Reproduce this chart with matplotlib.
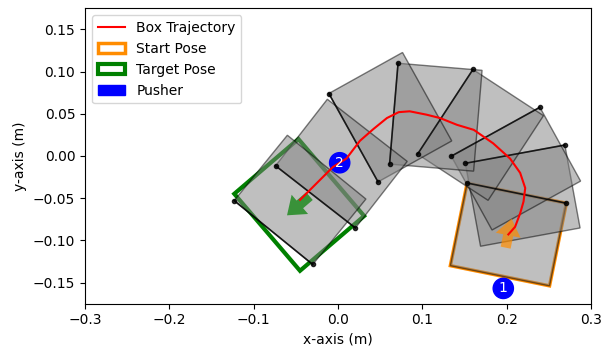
import numpy as np
import matplotlib
matplotlib.use("Agg")
import matplotlib.pyplot as plt
from matplotlib.patches import Rectangle, Circle

# box centre path (m)
traj_x = [0.202, 0.210, 0.216, 0.220, 0.222, 0.216, 0.204, 0.184, 0.161, 0.141,
          0.121, 0.105, 0.085, 0.072, 0.058, 0.042, 0.026, 0.010, -0.006, -0.025, -0.045]
traj_y = [-0.093, -0.084, -0.068, -0.054, -0.038, -0.020, -0.003, 0.015, 0.031, 0.037,
          0.045, 0.049, 0.053, 0.052, 0.045, 0.032, 0.018, -0.003, -0.013, -0.032, -0.052]

# intermediate box poses (x, y in m, theta in deg)
box_x = [0.202, 0.219, 0.211, 0.169, 0.116, 0.062, 0.004, -0.045]
box_y = [-0.093, -0.047, -0.015, 0.025, 0.046, 0.046, -0.009, -0.052]
box_theta = [-11.5, 10.4, 28.9, 56.8, 85.2, 119.1, 142.1, 140.9]

start_pose = (0.202, -0.093, -11.5)
target_pose = (-0.046, -0.058, 130.5)

pusher_x = [0.196, 0.002]
pusher_y = [-0.157, -0.008]
pusher_labels = ["1", "2"]

BOX_W, BOX_H = 0.12, 0.10
PUSHER_R = 0.012


def box_patch(x, y, theta, **kw):
    return Rectangle((x - BOX_W / 2, y - BOX_H / 2), BOX_W, BOX_H, angle=theta,
                     rotation_point="center", **kw)


def pose_arrow(ax, x, y, theta, color):
    t = np.radians(theta)
    u = np.array([-np.sin(t), np.cos(t)])
    p0 = np.array([x, y]) - 0.016 * u
    d = 0.035 * u
    ax.arrow(p0[0], p0[1], d[0], d[1], width=0.012, head_width=0.03, head_length=0.02,
             length_includes_head=True, color=color, alpha=0.7, lw=0, zorder=6)


fig = plt.figure(figsize=(6.09, 3.48), dpi=100)
ax = fig.add_axes([85 / 609, 44 / 348, 506 / 609, 296 / 348])

start_box = ax.add_patch(box_patch(*start_pose, facecolor="none", edgecolor="darkorange",
                                   lw=2.5, label="Start Pose", zorder=2))
target_box = ax.add_patch(box_patch(*target_pose, facecolor="none", edgecolor="green",
                                    lw=3, label="Target Pose", zorder=2))

for x, y, th in zip(box_x, box_y, box_theta):
    ax.add_patch(box_patch(x, y, th, facecolor=(0.5, 0.5, 0.5, 0.5),
                           edgecolor=(0, 0, 0, 0.5), lw=1, zorder=3))
    t = np.radians(th)
    ex = [x + (-0.06) * np.cos(t) - 0.05 * np.sin(t), x + 0.06 * np.cos(t) - 0.05 * np.sin(t)]
    ey = [y + (-0.06) * np.sin(t) + 0.05 * np.cos(t), y + 0.06 * np.sin(t) + 0.05 * np.cos(t)]
    ax.plot(ex, ey, "-o", color="k", lw=1.2, ms=3, alpha=0.8, zorder=4)

pose_arrow(ax, *start_pose, "darkorange")
pose_arrow(ax, *target_pose, "green")

traj_line, = ax.plot(traj_x, traj_y, color="red", lw=1.5, label="Box Trajectory", zorder=7)

pusher_patch = None
for i, (px, py, lab) in enumerate(zip(pusher_x, pusher_y, pusher_labels)):
    c = ax.add_patch(Circle((px, py), PUSHER_R, color="blue", zorder=6, label="Pusher"))
    if pusher_patch is None:
        pusher_patch = c
    ax.text(px, py, lab, color="white", ha="center", va="center", fontsize=10, zorder=8)

ax.set_xlim(-0.3, 0.3)
ax.set_ylim(-0.175, 0.175)
ax.set_aspect("equal")
ax.set_xticks(np.arange(-0.3, 0.31, 0.1))
ax.set_yticks(np.arange(-0.15, 0.16, 0.05))
ax.set_xlabel("x-axis (m)")
ax.set_ylabel("y-axis (m)")
ax.legend(handles=[traj_line, start_box, target_box, pusher_patch], loc="upper left")

fig.savefig("out.png", dpi=100)
